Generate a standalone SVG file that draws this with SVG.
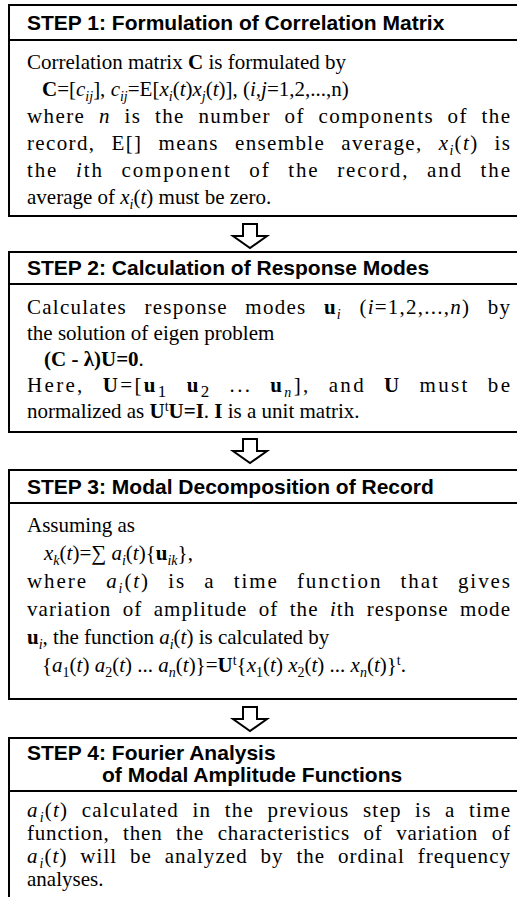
<svg xmlns="http://www.w3.org/2000/svg" width="517" height="897" viewBox="0 0 517 897">
<style>
.box{fill:#fff;stroke:#000;stroke-width:2}
.sep{stroke:#000;stroke-width:2}
.arr{fill:#fff;stroke:#000;stroke-width:2;stroke-linejoin:miter}
.h{font-family:"Liberation Sans",Arial,sans-serif;font-weight:bold;font-size:21px;fill:#000}
.t{font-family:"Liberation Serif","Times New Roman",serif;font-size:21px;fill:#000}
.i{font-style:italic}
.bd{font-weight:bold}
.s{font-size:14px}
.s2{font-size:17px}
</style>
<rect width="517" height="897" fill="#fff"/>

<g id="step1">
<rect class="box" x="9" y="5" width="530" height="211"/>
<line class="sep" x1="9" y1="40" x2="517" y2="40"/>
<text class="h" x="27" y="30">STEP 1: Formulation of Correlation Matrix</text>
<text class="t" x="27" y="69">Correlation matrix <tspan class="bd">C</tspan> is formulated by</text>
<text class="t" x="42" y="96"><tspan class="bd">C</tspan>=[<tspan class="i">c</tspan><tspan class="i s" dy="5">ij</tspan><tspan dy="-5">], </tspan><tspan class="i">c</tspan><tspan class="i s" dy="5">ij</tspan><tspan dy="-5">=E[</tspan><tspan class="i">x</tspan><tspan class="i s" dy="5">i</tspan><tspan dy="-5">(</tspan><tspan class="i">t</tspan>)<tspan class="i">x</tspan><tspan class="i s" dy="5">j</tspan><tspan dy="-5">(</tspan><tspan class="i">t</tspan>)], (<tspan class="i">i,j</tspan>=1,2,...,n)</text>
<text class="t" x="27" y="123" style="word-spacing:7px" textLength="483" lengthAdjust="spacing">where <tspan class="i">n</tspan> is the number of components of the</text>
<text class="t" x="27" y="150" style="word-spacing:9.5px" textLength="483" lengthAdjust="spacing">record, E[] means ensemble average, <tspan class="i">x</tspan><tspan class="i s" dy="5">i</tspan><tspan dy="-5">(</tspan><tspan class="i">t</tspan>) is</text>
<text class="t" x="27" y="177" style="word-spacing:10.5px" textLength="483" lengthAdjust="spacing">the <tspan class="i">i</tspan>th component of the record, and the</text>
<text class="t" x="27" y="204">average of <tspan class="i">x</tspan><tspan class="i s" dy="5">i</tspan><tspan dy="-5">(</tspan><tspan class="i">t</tspan>) must be zero.</text>
</g>

<g id="step2">
<rect class="box" x="9" y="252" width="530" height="180"/>
<line class="sep" x1="9" y1="284" x2="517" y2="284"/>
<text class="h" x="27" y="275">STEP 2: Calculation of Response Modes</text>
<text class="t" x="27" y="314" style="word-spacing:11px" textLength="483" lengthAdjust="spacing">Calculates response modes <tspan class="bd">u</tspan><tspan class="i s" dy="5">i</tspan><tspan dy="-5"> (</tspan><tspan class="i">i</tspan>=1,2,...,<tspan class="i">n</tspan>) by</text>
<text class="t" x="27" y="340">the solution of eigen problem</text>
<text class="t" x="44" y="366"><tspan class="bd">(C - λ)U=0</tspan>.</text>
<text class="t" x="27" y="392" style="word-spacing:10.5px" textLength="483" lengthAdjust="spacing">Here, <tspan class="bd">U</tspan>=[<tspan class="bd">u</tspan><tspan class="s2" dy="5">1</tspan><tspan dy="-5"> </tspan><tspan class="bd">u</tspan><tspan class="s2" dy="5">2</tspan><tspan dy="-5"> ... </tspan><tspan class="bd">u</tspan><tspan class="i s" dy="5">n</tspan><tspan dy="-5">], and </tspan><tspan class="bd">U</tspan> must be</text>
<text class="t" x="27" y="418">normalized as <tspan class="bd">U</tspan><tspan class="s" dy="-7">t</tspan><tspan class="bd" dy="7">U=I</tspan>. <tspan class="bd">I</tspan> is a unit matrix.</text>
</g>

<g id="step3">
<rect class="box" x="9" y="470" width="530" height="229"/>
<line class="sep" x1="9" y1="503" x2="517" y2="503"/>
<text class="h" x="27" y="494">STEP 3: Modal Decomposition of Record</text>
<text class="t" x="27" y="532">Assuming as</text>
<text class="t" x="44" y="560"><tspan class="i">x</tspan><tspan class="i s" dy="5">k</tspan><tspan dy="-5">(</tspan><tspan class="i">t</tspan>)=∑ <tspan class="i">a</tspan><tspan class="i s" dy="5">i</tspan><tspan dy="-5">(</tspan><tspan class="i">t</tspan>){<tspan class="bd">u</tspan><tspan class="i s" dy="5">ik</tspan><tspan dy="-5">},</tspan></text>
<text class="t" x="27" y="588" style="word-spacing:11px" textLength="483" lengthAdjust="spacing">where <tspan class="i">a</tspan><tspan class="i s" dy="5">i</tspan><tspan dy="-5">(</tspan><tspan class="i">t</tspan>) is a time function that gives</text>
<text class="t" x="27" y="616" style="word-spacing:5px" textLength="483" lengthAdjust="spacing">variation of amplitude of the <tspan class="i">i</tspan>th response mode</text>
<text class="t" x="27" y="644"><tspan class="bd">u</tspan><tspan class="i s" dy="5">i</tspan><tspan dy="-5">, the function </tspan><tspan class="i">a</tspan><tspan class="i s" dy="5">i</tspan><tspan dy="-5">(</tspan><tspan class="i">t</tspan>) is calculated by</text>
<text class="t" x="42" y="672">{<tspan class="i">a</tspan><tspan class="s" dy="5">1</tspan><tspan dy="-5">(</tspan><tspan class="i">t</tspan>) <tspan class="i">a</tspan><tspan class="s" dy="5">2</tspan><tspan dy="-5">(</tspan><tspan class="i">t</tspan>) ... <tspan class="i">a</tspan><tspan class="i s" dy="5">n</tspan><tspan dy="-5">(</tspan><tspan class="i">t</tspan>)}=<tspan class="bd">U</tspan><tspan class="s" dy="-7">t</tspan><tspan dy="7">{</tspan><tspan class="i">x</tspan><tspan class="s" dy="5">1</tspan><tspan dy="-5">(</tspan><tspan class="i">t</tspan>) <tspan class="i">x</tspan><tspan class="s" dy="5">2</tspan><tspan dy="-5">(</tspan><tspan class="i">t</tspan>) ... <tspan class="i">x</tspan><tspan class="i s" dy="5">n</tspan><tspan dy="-5">(</tspan><tspan class="i">t</tspan>)}<tspan class="s" dy="-7">t</tspan><tspan dy="7">.</tspan></text>
</g>

<g id="step4">
<rect class="box" x="9" y="738" width="530" height="170"/>
<line class="sep" x1="9" y1="791" x2="517" y2="791"/>
<text class="h" x="27" y="760">STEP 4: Fourier Analysis</text>
<text class="h" x="102" y="782">of Modal Amplitude Functions</text>
<text class="t" x="27" y="817" style="word-spacing:7px" textLength="483" lengthAdjust="spacing"><tspan class="i">a</tspan><tspan class="i s" dx="1" dy="5">i</tspan><tspan dy="-5">(</tspan><tspan class="i">t</tspan>) calculated in the previous step is a time</text>
<text class="t" x="27" y="840" style="word-spacing:7.5px" textLength="483" lengthAdjust="spacing">function, then the characteristics of variation of</text>
<text class="t" x="27" y="863" style="word-spacing:6.5px" textLength="483" lengthAdjust="spacing"><tspan class="i">a</tspan><tspan class="i s" dx="1" dy="5">i</tspan><tspan dy="-5">(</tspan><tspan class="i">t</tspan>) will be analyzed by the ordinal frequency</text>
<text class="t" x="27" y="886">analyses.</text>
</g>

<g id="connectors">
<path class="arr" d="M243,224 L257,224 L257,236 L267,236 L250,248 L233,236 L243,236 Z"/>
<path class="arr" d="M243,439 L257,439 L257,451 L267,451 L250,463 L233,451 L243,451 Z"/>
<path class="arr" d="M243,707 L257,707 L257,719 L267,719 L250,731 L233,719 L243,719 Z"/>
</g>
</svg>
